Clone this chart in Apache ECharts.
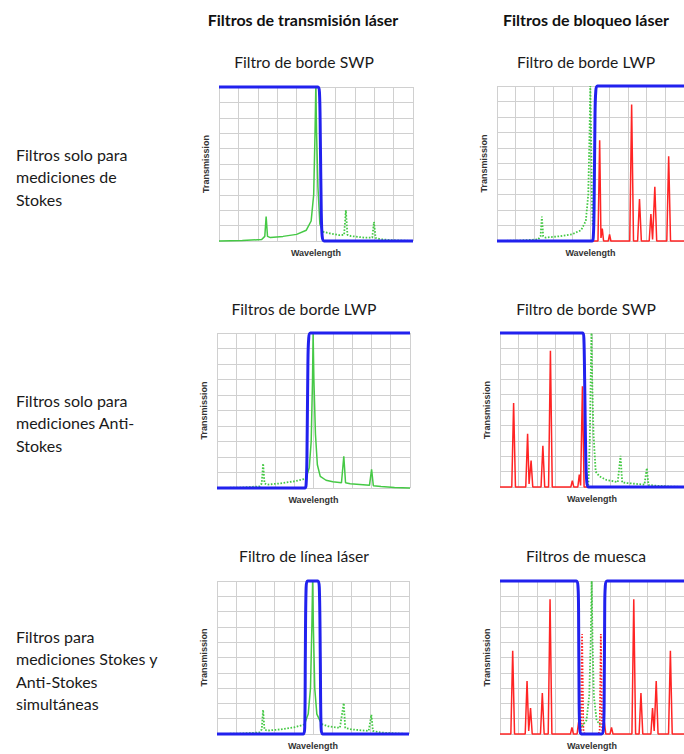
<!DOCTYPE html>
<html>
<head>
<meta charset="utf-8">
<script src="https://cdn.jsdelivr.net/npm/echarts@6/dist/echarts.min.js"></script>
<style>
  html, body { margin: 0; padding: 0; background: #fff; }
  #chart { width: 684px; height: 754px; }
</style>
</head>
<body>
<div id="chart"></div>
<script>
// x = wavelength (grid units 0..10), y = transmission (0..10)

// panel 1: SWP edge, transmission side
var g1Solid = [[0,0],[1.2,0.03],[2.2,0.1],[2.36,0.3],[2.43,1.58],[2.5,0.3],[2.65,0.22],[3.3,0.3],[4.0,0.43],[4.5,0.7],[4.75,1.3],[4.88,3],[4.95,7],[4.99,10],[5.03,7],[5.1,3.5],[5.2,1.1],[5.35,0.6]];
var g1Dot = [[5.35,0.6],[5.7,0.5],[6.2,0.38],[6.45,0.4],[6.54,2.0],[6.62,0.4],[6.8,0.32],[7.5,0.22],[7.9,0.22],[7.99,1.25],[8.07,0.2],[8.3,0.12],[8.8,0.06],[10,0]];
var b1 = [[0,10],[5.1,10],[5.18,9.6],[5.22,7],[5.27,2],[5.32,0.3],[5.42,0],[10,0]];

// panel 2: LWP edge, blocking side
var g2Dot = [[0,0],[1.2,0.03],[2.2,0.1],[2.33,0.3],[2.4,1.57],[2.47,0.3],[2.6,0.22],[3.3,0.3],[4.0,0.43],[4.5,0.7],[4.75,1.3],[4.88,3],[4.95,7],[4.99,10],[5.03,7],[5.07,3],[5.12,1]];
var r2 = [[5.12,0],[5.4,0],[5.49,6.5],[5.56,0.2],[5.63,0.8],[5.7,0],[5.95,0],[6.02,0.43],[6.09,0],[7.1,0],[7.2,8.8],[7.3,0],[7.52,0],[7.62,2.7],[7.72,0],[8.14,0],[8.23,1.74],[8.32,0.1],[8.44,3.5],[8.54,0],[9.08,0],[9.18,5.47],[9.28,0],[10,0]];
var b2 = [[0,0],[5.08,0],[5.15,0.3],[5.19,2],[5.24,8],[5.28,9.6],[5.37,10],[10,10]];

// panel 3: LWP edge, transmission side
var g3Dot = [[0,0],[1.2,0.03],[2.2,0.1],[2.32,0.3],[2.39,1.58],[2.46,0.3],[2.6,0.22],[3.3,0.3],[4.0,0.43],[4.6,0.6]];
var g3Solid = [[4.6,0.6],[4.78,1.3],[4.88,3],[4.95,7],[4.98,10],[5.02,7],[5.1,3.5],[5.2,1.5],[5.35,0.75],[5.65,0.5],[6.0,0.4],[6.45,0.34],[6.57,2.05],[6.66,0.34],[6.9,0.28],[7.9,0.17],[8.01,1.2],[8.1,0.15],[8.5,0.09],[9.2,0.04],[10,0]];
var b3 = [[0,0],[4.55,0],[4.62,0.3],[4.66,2],[4.71,8],[4.75,9.6],[4.84,10],[10,10]];

// panel 4: SWP edge, blocking side
var r4 = [[0,0],[0.64,0],[0.74,5.45],[0.84,0],[1.4,0],[1.5,3.46],[1.58,0.2],[1.69,1.71],[1.78,0],[2.23,0],[2.33,2.68],[2.43,0],[2.64,0],[2.74,8.85],[2.84,0],[3.85,0],[3.93,0.41],[4.01,0],[4.23,0],[4.31,0.8],[4.38,0.1],[4.48,6.54],[4.57,0],[4.75,0]];
var g4Dot = [[4.8,0.1],[4.88,3],[4.93,7],[4.97,10],[5.01,7],[5.08,3.5],[5.2,1.0],[5.4,0.7],[5.8,0.45],[6.4,0.32],[6.55,2.03],[6.64,0.3],[6.9,0.26],[7.85,0.15],[7.98,1.23],[8.07,0.13],[8.5,0.08],[9.3,0.03],[10,0]];
var b4 = [[0,10],[4.5,10],[4.56,9.6],[4.6,7],[4.66,2],[4.72,0.3],[4.82,0],[10,0]];

// panel 5: laser line filter
var g5DotL = [[0,0],[1.2,0.03],[2.2,0.1],[2.33,0.3],[2.4,1.58],[2.47,0.3],[2.6,0.22],[3.3,0.3],[4.0,0.43],[4.55,0.62]];
var g5Solid = [[4.55,0.62],[4.75,1.3],[4.87,3],[4.94,7],[4.98,10],[5.02,7],[5.09,3],[5.2,1.3],[5.45,0.65]];
var g5DotR = [[5.45,0.65],[5.8,0.5],[6.4,0.4],[6.6,2.02],[6.68,0.4],[7.0,0.3],[7.9,0.2],[8.04,1.26],[8.12,0.2],[8.5,0.1],[9.3,0.04],[10,0]];
var b5 = [[0,0],[4.5,0],[4.57,0.5],[4.6,5],[4.64,9.5],[4.72,10],[5.25,10],[5.33,9.5],[5.38,5],[5.42,0.5],[5.5,0],[10,0]];

// panel 6: notch filter
var r6L = [[0,0],[0.59,0],[0.69,5.44],[0.79,0],[1.37,0],[1.47,3.47],[1.56,0.2],[1.66,1.69],[1.75,0],[2.2,0],[2.3,2.67],[2.4,0],[2.62,0],[2.72,8.8],[2.82,0],[3.83,0],[3.91,0.43],[3.99,0],[4.19,0],[4.27,0.78],[4.36,0]];
var r6Dot = [[4.36,0],[4.4,0.3],[4.46,6.53],[4.53,0.3],[4.6,0],[5.36,0],[5.42,0.3],[5.48,6.53],[5.55,0.3],[5.6,0]];
var r6R = [[5.6,0],[5.67,0.78],[5.75,0],[5.98,0],[6.06,0.43],[6.14,0],[7.17,0],[7.27,8.8],[7.37,0],[7.56,0],[7.66,2.67],[7.76,0],[8.2,0],[8.29,1.69],[8.38,0.2],[8.49,3.47],[8.59,0],[9.16,0],[9.26,5.44],[9.36,0],[10,0]];
var g6Dot = [[4.45,0.5],[4.7,0.9],[4.85,2.5],[4.93,6],[4.98,10],[5.03,6],[5.1,2.5],[5.25,0.9],[5.5,0.5]];
var b6 = [[0,10],[4.15,10],[4.24,9.6],[4.27,8],[4.3,2],[4.34,0.3],[4.42,0],[5.52,0],[5.62,0.3],[5.66,2],[5.69,8],[5.72,9.6],[5.82,10],[10,10]];

var columnHeads = ['Filtros de transmisión láser', 'Filtros de bloqueo láser'];
var panelTitles = ['Filtro de borde SWP', 'Filtro de borde LWP', 'Filtros de borde LWP', 'Filtro de borde SWP', 'Filtro de línea láser', 'Filtros de muesca'];
var rowLabels = [
  ['Filtros solo para', 'mediciones de', 'Stokes'],
  ['Filtros solo para', 'mediciones Anti-', 'Stokes'],
  ['Filtros para', 'mediciones Stokes y', 'Anti-Stokes', 'simultáneas']
];

var GREEN = '#45c945', RED = '#ff2424', BLUE = '#2121ee';

var layout = [
  { left: 219, top: 87, width: 194, height: 154, tx: 304, ty: 62 },
  { left: 497, top: 86, width: 194, height: 155, tx: 586, ty: 62 },
  { left: 217, top: 333, width: 193, height: 155, tx: 304, ty: 309 },
  { left: 500, top: 333, width: 193, height: 154, tx: 586, ty: 309 },
  { left: 217, top: 581, width: 192, height: 153, tx: 304, ty: 556 },
  { left: 500, top: 581, width: 193, height: 153, tx: 586, ty: 556 }
];
var rowLabelY = [154, 400, 636];

var panelSeries = [
  [[g1Solid, GREEN, 'solid'], [g1Dot, GREEN, 'dot'], [b1, BLUE, 'filter']],
  [[g2Dot, GREEN, 'dot'], [r2, RED, 'solid'], [b2, BLUE, 'filter']],
  [[g3Dot, GREEN, 'dot'], [g3Solid, GREEN, 'solid'], [b3, BLUE, 'filter']],
  [[r4, RED, 'solid'], [g4Dot, GREEN, 'dot'], [b4, BLUE, 'filter']],
  [[g5DotL, GREEN, 'dot'], [g5DotR, GREEN, 'dot'], [g5Solid, GREEN, 'solid'], [b5, BLUE, 'filter']],
  [[r6L, RED, 'solid'], [r6R, RED, 'solid'], [r6Dot, RED, 'dot'], [g6Dot, GREEN, 'dot'], [b6, BLUE, 'filter']]
];

var axisNameStyle = { fontFamily: 'Liberation Sans, Arial, sans-serif', fontSize: 9, fontWeight: 'bold', color: '#333' };
var gridLine = { show: true, lineStyle: { color: '#d0d0d0', width: 1 } };

var grids = [], xAxes = [], yAxes = [], series = [], graphics = [];

layout.forEach(function (l, i) {
  grids.push({ left: l.left, top: l.top, width: l.width, height: l.height });
  xAxes.push({
    type: 'value', gridIndex: i, min: 0, max: 10, interval: 1,
    name: 'Wavelength', nameLocation: 'middle', nameGap: 7, nameTextStyle: axisNameStyle,
    axisLine: { show: false }, axisTick: { show: false }, axisLabel: { show: false },
    splitLine: gridLine
  });
  yAxes.push({
    type: 'value', gridIndex: i, min: 0, max: 10, interval: 1,
    name: 'Transmission', nameLocation: 'middle', nameGap: 9, nameRotate: 90, nameTextStyle: axisNameStyle,
    axisLine: { show: false }, axisTick: { show: false }, axisLabel: { show: false },
    splitLine: gridLine
  });
  panelSeries[i].forEach(function (s) {
    var isFilter = s[2] === 'filter';
    series.push({
      type: 'line', xAxisIndex: i, yAxisIndex: i, data: s[0],
      showSymbol: false, symbol: 'none', clip: false,
      smooth: isFilter ? 0.3 : false,
      lineStyle: {
        color: s[1],
        width: isFilter ? 3 : (s[2] === 'dot' ? 1.8 : 1.5),
        type: s[2] === 'dot' ? [1.6, 1.6] : 'solid'
      },
      z: isFilter ? 5 : 3
    });
  });
  graphics.push({
    type: 'text', x: l.tx, y: l.ty,
    style: { text: panelTitles[i], font: '15.7px Lato, sans-serif', fill: '#1a1a1a', align: 'center', verticalAlign: 'middle' }
  });
});

graphics.push({
  type: 'text', x: 303, y: 19,
  style: { text: columnHeads[0], font: 'bold 16px Lato, sans-serif', fill: '#111', align: 'center', verticalAlign: 'middle' }
});
graphics.push({
  type: 'text', x: 586, y: 19,
  style: { text: columnHeads[1], font: 'bold 16px Lato, sans-serif', fill: '#111', align: 'center', verticalAlign: 'middle' }
});

rowLabels.forEach(function (lines, r) {
  lines.forEach(function (t, k) {
    graphics.push({
      type: 'text', x: 16, y: rowLabelY[r] + k * 22.6,
      style: { text: t, font: '16px Lato, sans-serif', fill: '#1a1a1a', align: 'left', verticalAlign: 'middle' }
    });
  });
});

var chart = echarts.init(document.getElementById('chart'), null, { renderer: 'svg' });
chart.setOption({
  animation: false,
  backgroundColor: '#fff',
  grid: grids,
  xAxis: xAxes,
  yAxis: yAxes,
  series: series,
  graphic: graphics
});
</script>
</body>
</html>
